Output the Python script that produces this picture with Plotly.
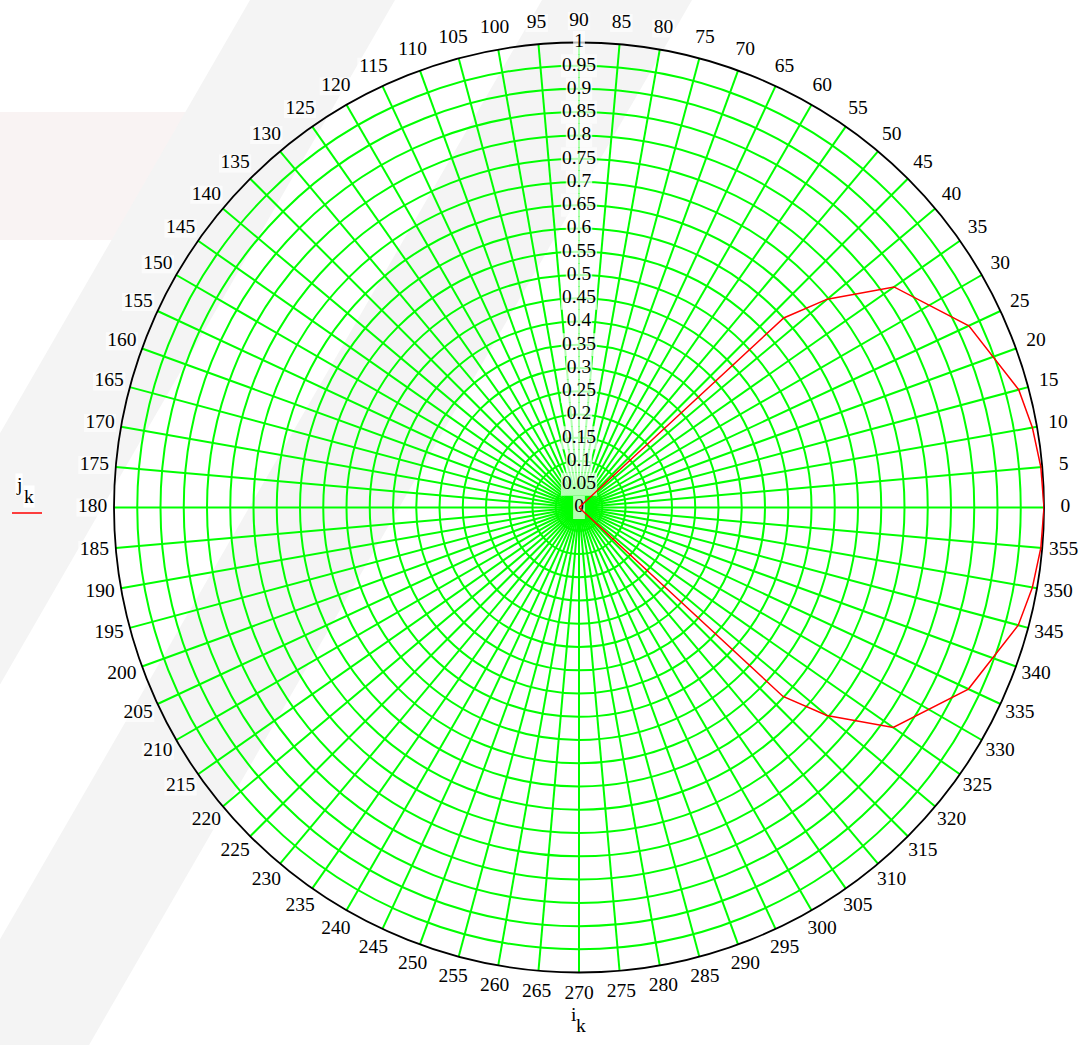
import plotly.graph_objects as go

# ---- data -------------------------------------------------------------
# polar trace: angle i_k in degrees, radius j_k
i_k = [42.8, 42.8, 40.0, 35.0, 25.0, 15.0, 10.0, 5.0, 0.0,
       -5.0, -10.0, -15.0, -25.0, -35.0, -40.0, -42.8, -42.8]
j_k = [0.0, 0.600, 0.697, 0.827, 0.925, 0.979, 0.990, 0.997, 1.000,
       0.997, 0.990, 0.978, 0.924, 0.825, 0.696, 0.598, 0.0]

# tick values
radial_ticks = [round(0.05 * n, 2) for n in range(21)]
angle_ticks = list(range(0, 360, 5))

radial_labels = [f"{v:g}" for v in radial_ticks]
angle_labels = [str(a) for a in angle_ticks]

# ---- styling ----------------------------------------------------------
FONT = "Liberation Serif"
FSIZE = 19.5
GREEN = "#00ff00"
RED = "#ff0000"
W, H = 1087, 1045
CX, CY, R = 579, 507.5, 465
LABEL_R = 1.046          # radius of the angular tick labels
OUTER = 1.05             # radial extent of the label ring subplot


def text_px(s, size=FSIZE):
    """Approximate rendered width of a numeric label in a Times-like face."""
    return sum(0.5 if c.isdigit() else 0.25 for c in s) * size


def box_sizes(labels, pad):
    # 'line-ew' markers are 1.4*size long
    return [(text_px(s) + pad) / 1.4 for s in labels]


def domain(scale):
    rr = R * scale
    return dict(x=[(CX - rr) / W, (CX + rr) / W],
                y=[1 - (CY + rr) / H, 1 - (CY - rr) / H])


fig = go.Figure()

# radial tick labels on white boxes along the 90 degree spoke
fig.add_trace(go.Scatterpolar(
    r=radial_ticks, theta=[90] * len(radial_ticks),
    mode="markers+text", text=radial_labels,
    textposition="middle center",
    textfont=dict(family=FONT, size=FSIZE, color="black"),
    marker=dict(symbol="line-ew", size=box_sizes(radial_labels, 2),
                color="white", line=dict(color="white", width=23)),
    cliponaxis=False, hoverinfo="skip", showlegend=False,
))

# the j_k(i_k) curve
fig.add_trace(go.Scatterpolar(
    r=j_k, theta=i_k, mode="lines",
    line=dict(color=RED, width=1.5),
    name="j_k", showlegend=False,
))

# angular tick labels on white boxes just outside the rim
fig.add_trace(go.Scatterpolar(
    r=[LABEL_R] * len(angle_ticks), theta=angle_ticks, subplot="polar2",
    mode="markers+text", text=angle_labels,
    textposition="middle center",
    textfont=dict(family=FONT, size=FSIZE, color="black"),
    marker=dict(symbol="line-ew", size=box_sizes(angle_labels, 3),
                color="white", line=dict(color="white", width=18)),
    cliponaxis=False, hoverinfo="skip", showlegend=False,
))

# ---- background diagonal bands -----------------------------------------
def px_path(points):
    pts = [(x / W, 1 - y / H) for x, y in points]
    return "M " + " L ".join(f"{x:.5f},{y:.5f}" for x, y in pts) + " Z"


SLOPE = 0.577  # horizontal shift per pixel of height (60 degree bands)
bands = [(250, 395), (542, 692)]
shapes = [dict(type="path", xref="paper", yref="paper", layer="below",
               path=px_path([(0, 112), (200, 112), (200, 240), (0, 240)]),
               fillcolor="#f9f3f3", line=dict(width=0))]
for x0, x1 in bands:
    yb = H + 10
    shapes.append(dict(
        type="path", xref="paper", yref="paper", layer="below",
        path=px_path([(x0, 0), (x1, 0),
                      (x1 - SLOPE * yb, yb), (x0 - SLOPE * yb, yb)]),
        fillcolor="#f4f4f4", line=dict(width=0)))

# legend sample line under the j_k label
shapes.append(dict(type="line", xref="paper", yref="paper", layer="above",
                   x0=12 / W, x1=42 / W, y0=1 - 513 / H, y1=1 - 513 / H,
                   line=dict(color=RED, width=1.5)))


def label(txt, x, y, bg=None):
    return dict(text=txt, xref="paper", yref="paper", x=x / W, y=1 - y / H,
                showarrow=False, bgcolor=bg, borderpad=0,
                font=dict(family=FONT, size=FSIZE, color="black"))


annotations = [
    label("j", 14.5, 484, "white"), label("k", 22.5, 496, "white"),
    label("i", 574, 1026), label("k", 581, 1037),
]

fig.update_layout(
    width=W, height=H,
    margin=dict(l=0, r=0, t=0, b=0),
    paper_bgcolor="white",
    showlegend=False,
    shapes=shapes,
    annotations=annotations,
    polar=dict(
        domain=domain(1.0),
        bgcolor="rgba(0,0,0,0)",
        radialaxis=dict(
            range=[0, 1], tickmode="linear", tick0=0, dtick=0.05, angle=90,
            showticklabels=False, ticks="", showline=False,
            linecolor="rgba(0,0,0,0)",
            gridcolor=GREEN, gridwidth=1.5, layer="below traces",
        ),
        angularaxis=dict(
            rotation=0, direction="counterclockwise",
            tickmode="linear", tick0=0, dtick=5,
            showticklabels=False, ticks="",
            gridcolor=GREEN, gridwidth=1.5,
            showline=True, linecolor="black", linewidth=1.8,
            layer="below traces",
        ),
    ),
    polar2=dict(
        domain=domain(OUTER),
        bgcolor="rgba(0,0,0,0)",
        radialaxis=dict(range=[0, OUTER], showgrid=False, showline=False,
                        showticklabels=False, ticks=""),
        angularaxis=dict(rotation=0, direction="counterclockwise",
                         showgrid=False, showline=False,
                         showticklabels=False, ticks=""),
    ),
)

fig.write_html("out.html")
